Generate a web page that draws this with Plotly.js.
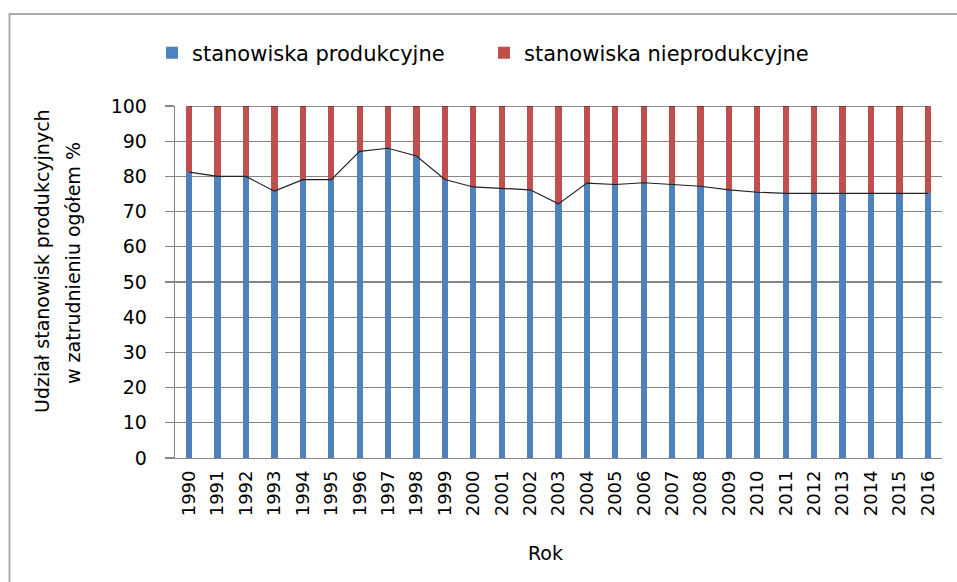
<!DOCTYPE html>
<html>
<head>
<meta charset="utf-8">
<script src="https://cdn.plot.ly/plotly-3.0.1.min.js"></script>
<style>
  html, body { margin: 0; padding: 0; background: #fff; }
  #chart { width: 957px; height: 582px; }
</style>
</head>
<body>
<div id="chart"></div>
<script>
const years = ['1990','1991','1992','1993','1994','1995','1996','1997','1998','1999','2000','2001','2002','2003','2004','2005','2006','2007','2008','2009','2010','2011','2012','2013','2014','2015','2016'];
const produkcyjne = [81.2, 80.0, 80.0, 75.8, 79.1, 79.1, 87.1, 88.0, 85.8, 79.1, 77.0, 76.5, 76.2, 72.2, 78.1, 77.7, 78.2, 77.7, 77.2, 76.2, 75.5, 75.2, 75.2, 75.2, 75.2, 75.2, 75.2];
const nieprodukcyjne = produkcyjne.map(v => +(100 - v).toFixed(1));
const totals = produkcyjne.map((v, i) => +(v + nieprodukcyjne[i]).toFixed(1));

const FONT = 'DejaVu Sans, Verdana, sans-serif';
const L = 175, R = 15, T = 106, B = 124;
const W = 957, H = 582;
const pw = W - L - R, ph = H - T - B;
const px = x => (x - L) / pw;
const py = y => 1 - (y - T) / ph;

const traces = [
  { type: 'bar', x: years, y: produkcyjne, name: 'stanowiska produkcyjne',
    marker: { color: '#4F81BD' }, width: 0.22, hoverinfo: 'x+y' },
  { type: 'bar', x: years, y: nieprodukcyjne, name: 'stanowiska nieprodukcyjne',
    marker: { color: '#C0504D' }, width: 0.22, hoverinfo: 'x+y' },
  { type: 'scatter', mode: 'lines', x: years, y: produkcyjne, showlegend: false,
    line: { color: '#222', width: 1.2 }, hoverinfo: 'skip' },
  { type: 'scatter', mode: 'lines', x: years, y: totals, showlegend: false,
    line: { color: '#222', width: 1.2 }, hoverinfo: 'skip' }
];

const layout = {
  width: W, height: H,
  margin: { l: L, r: R, t: T, b: B, pad: 0 },
  paper_bgcolor: '#fff', plot_bgcolor: '#fff',
  barmode: 'stack',
  font: { family: FONT, size: 18, color: '#000' },
  showlegend: true,
  legend: {
    orientation: 'h', x: px(152), xanchor: 'left', y: py(53), yanchor: 'middle',
    font: { family: FONT, size: 21, color: '#000' },
    entrywidth: 287, entrywidthmode: 'pixels', traceorder: 'normal',
    bgcolor: 'rgba(0,0,0,0)'
  },
  xaxis: {
    type: 'category', tickangle: -90, showgrid: false,
    showline: true, linecolor: '#868686', linewidth: 1.3,
    ticks: '', tickfont: { family: FONT, size: 18 }, fixedrange: true,
    ticklabelstandoff: 4
  },
  yaxis: {
    range: [0, 100], dtick: 10, tick0: 0,
    showgrid: true, gridcolor: '#868686', gridwidth: 1.3,
    showline: true, linecolor: '#868686', linewidth: 1.3,
    ticks: 'outside', ticklen: 9, tickcolor: '#868686', tickwidth: 1.3,
    tickfont: { family: FONT, size: 19 }, ticklabelstandoff: 14,
    zeroline: false, fixedrange: true
  },
  annotations: [
    { text: 'Udział stanowisk produkcyjnych', xref: 'paper', yref: 'paper',
      x: px(42), y: py(261), textangle: -90, showarrow: false,
      xanchor: 'center', yanchor: 'middle', font: { family: FONT, size: 19 } },
    { text: 'w zatrudnieniu ogółem %', xref: 'paper', yref: 'paper',
      x: px(73), y: py(263), textangle: -90, showarrow: false,
      xanchor: 'center', yanchor: 'middle', font: { family: FONT, size: 19 } },
    { text: 'Rok', xref: 'paper', yref: 'paper',
      x: px(545), y: py(553), showarrow: false,
      xanchor: 'center', yanchor: 'middle', font: { family: FONT, size: 19 } }
  ],
  shapes: [
    { type: 'rect', xref: 'paper', yref: 'paper',
      x0: px(9.5), x1: px(970), y0: py(600), y1: py(14),
      line: { color: '#ababab', width: 2 }, fillcolor: 'rgba(0,0,0,0)', layer: 'below' }
  ]
};

Plotly.newPlot('chart', traces, layout, { displayModeBar: false, staticPlot: true });
</script>
</body>
</html>
